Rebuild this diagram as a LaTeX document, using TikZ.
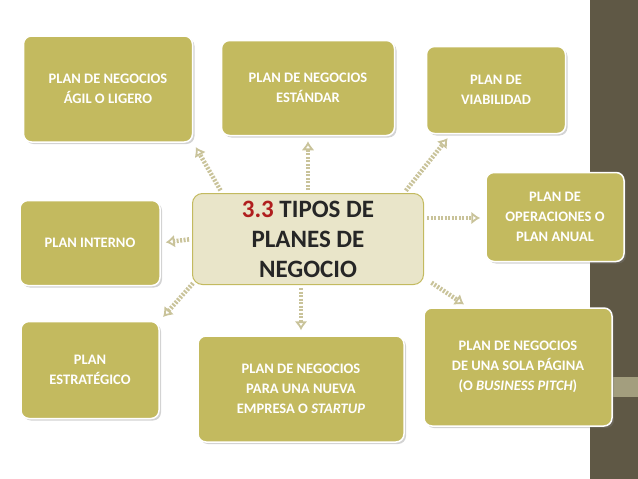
\documentclass[tikz,border=0pt]{standalone}
\usepackage{fontspec}
\setmainfont{Carlito}
\usetikzlibrary{shadows,arrows.meta,calc}
\definecolor{olive}{HTML}{C3BA5F}
\definecolor{band}{HTML}{5F5845}
\definecolor{stripe}{HTML}{A39E7E}
\definecolor{pale}{HTML}{E9E5C9}
\definecolor{arr}{HTML}{C9C39A}
\definecolor{numred}{HTML}{B01E1E}
\begin{document}
\begin{tikzpicture}[x=1pt, y=-1pt,
  tipo/.style={rectangle, rounded corners=8pt, draw=white, line width=1.5pt, fill=olive,
    text=white, font=\bfseries\fontsize{14.5}{20}\selectfont, align=center,
    drop shadow={opacity=0.35, shadow xshift=2pt, shadow yshift=-2pt}},
  centro/.style={rectangle, rounded corners=10pt, draw=olive, line width=1pt, fill=pale,
    text=black!85, font=\bfseries\fontsize{25}{30}\selectfont, align=center,
    minimum width=231pt, minimum height=91pt},
  flecha/.style={draw=arr, line width=4.5pt, dash pattern=on 2pt off 1.5pt,
    -{Latex[open, length=9pt, width=13pt, line width=1.8pt]}, shorten <=3pt, shorten >=5pt}]
  \useasboundingbox (0,0) rectangle (638,479);
  \fill[band] (590,0) rectangle (638,479);
  \fill[stripe] (586,377) rectangle (638,397);

  \node[centro] (tipos) at (308,239) {\textcolor{numred}{3.3} TIPOS DE\\PLANES DE\\NEGOCIO};

  \node[tipo, minimum width=169pt, minimum height=106pt] (agil) at (108,89) {PLAN DE NEGOCIOS\\ÁGIL O LIGERO};
  \node[tipo, minimum width=173pt, minimum height=95pt] (estandar) at (308,88) {PLAN DE NEGOCIOS\\ESTÁNDAR};
  \node[tipo, minimum width=139pt, minimum height=87pt] (viable) at (496,90) {PLAN DE\\VIABILIDAD};
  \node[tipo, minimum width=140pt, minimum height=85pt] (interno) at (90,243) {PLAN INTERNO};
  \node[tipo, minimum width=138pt, minimum height=89pt] (anual) at (555,217) {PLAN DE\\OPERACIONES O\\PLAN ANUAL};
  \node[tipo, minimum width=138pt, minimum height=97pt] (estrat) at (90,370) {PLAN\\ESTRATÉGICO};
  \node[tipo, minimum width=206pt, minimum height=106pt] (startup) at (301,389) {PLAN DE NEGOCIOS\\PARA UNA NUEVA\\EMPRESA O \textit{STARTUP}};
  \node[tipo, minimum width=188pt, minimum height=118pt] (pitch) at (518,367) {PLAN DE NEGOCIOS\\DE UNA SOLA PÁGINA\\(O \textit{BUSINESS PITCH})};

  % conectores
  \draw[flecha] ($(tipos.north west)+(30,0)$) -- (agil.south east);
  \draw[flecha] (tipos.north) -- (estandar.south);
  \draw[flecha] ($(tipos.north east)+(-20,0)$) -- ($(viable.south west)+(25,0)$);
  \draw[flecha] (tipos.west) -- (interno.east);
  \draw[flecha] ($(tipos.east)+(0,-21)$) coordinate (a5) -- (a5 -| anual.west);
  \draw[flecha] ($(tipos.south east)+(5,-4)$) -- ($(pitch.north west)+(45,0)$);
  \draw[flecha] ($(tipos.south)+(-7,0)$) coordinate (a7) -- (a7 |- startup.north);
  \draw[flecha] ($(tipos.south west)+(3,-4)$) -- (estrat.north east);
\end{tikzpicture}
\end{document}
